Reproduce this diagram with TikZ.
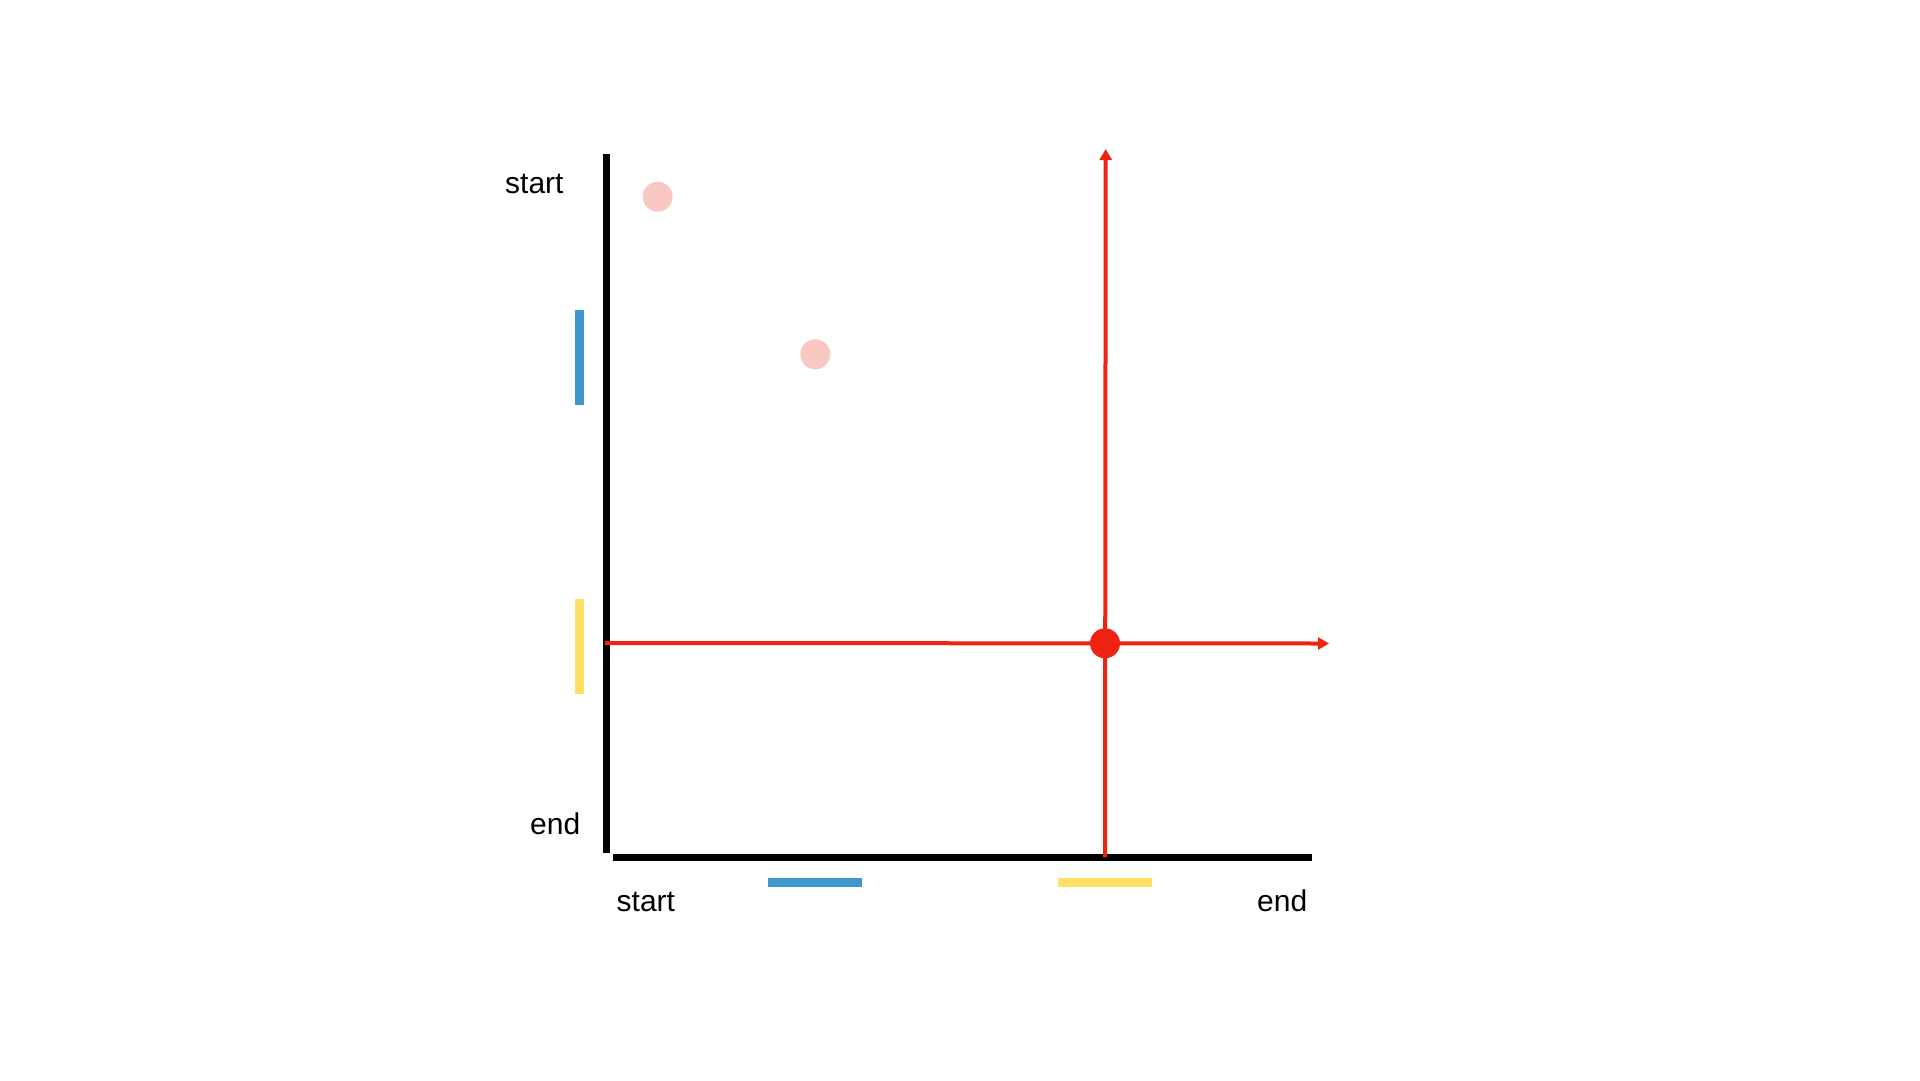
\documentclass[tikz,border=0pt]{standalone}
\usepackage{fontspec}
\setmainfont{Liberation Sans}
\usetikzlibrary{arrows.meta}
\definecolor{axisblack}{HTML}{000000}
\definecolor{redline}{HTML}{EF2312}
\definecolor{pinkdot}{HTML}{FAC8C2}
\definecolor{barblue}{HTML}{3F98CD}
\definecolor{baryellow}{HTML}{FFE066}
\tikzset{
  axis/.style={line width=7pt, draw=axisblack},
  redarrow/.style={line width=4pt, draw=redline, -{Triangle[length=11pt,width=12pt]}},
  redplain/.style={line width=4pt, draw=redline},
  bar/.style={line width=9pt},
  dotnode/.style={circle, inner sep=0pt, minimum size=30pt, fill=pinkdot},
  reddot/.style={circle, inner sep=0pt, minimum size=30pt, fill=redline},
  lbl/.style={inner sep=0pt, anchor=base west, font=\fontsize{30}{36}\selectfont}
}
\begin{document}
\begin{tikzpicture}[x=1pt,y=-1pt]
\useasboundingbox[fill=white] (0,0) rectangle (1920,1080);
% axes
\coordinate (ytop) at (606.5,154);
\coordinate (ybot) at (606.5,853);
\coordinate (xleft) at (613,857);
\coordinate (xright) at (1312,857);
\draw[axis] (ytop) -- (ybot);
\draw[axis] (xleft) -- (xright);
% labels
\node[lbl] (ystart) at (505,193.5) {start};
\node[lbl] (yend) at (530,834.5) {end};
\node[lbl] (xstart) at (616.5,911.5) {start};
\node[lbl] (xend) at (1257,911.5) {end};
% bars
\coordinate (b1a) at (579.5,310);
\coordinate (b1b) at (579.5,405);
\coordinate (y1a) at (579.5,599);
\coordinate (y1b) at (579.5,694);
\coordinate (b2a) at (768,882.5);
\coordinate (b2b) at (862,882.5);
\coordinate (y2a) at (1058,882.5);
\coordinate (y2b) at (1152,882.5);
\draw[bar, draw=barblue] (b1a) -- (b1b);
\draw[bar, draw=baryellow] (y1a) -- (y1b);
\draw[bar, draw=barblue] (b2a) -- (b2b);
\draw[bar, draw=baryellow] (y2a) -- (y2b);
% pink dots
\node[dotnode] (p1) at (657.7,196.7) {};
\node[dotnode] (p2) at (815.3,354.3) {};
% red lines
\coordinate (hstart) at (605,643);
\coordinate (hend) at (1329,643.5);
\coordinate (vstart) at (1105,857);
\coordinate (vend) at (1105.7,149);
\draw[redarrow] (hstart) -- (hend);
\draw[redarrow] (vstart) -- (vend);
\node[reddot] (rd) at (1105,643.3) {};
\end{tikzpicture}
\end{document}
